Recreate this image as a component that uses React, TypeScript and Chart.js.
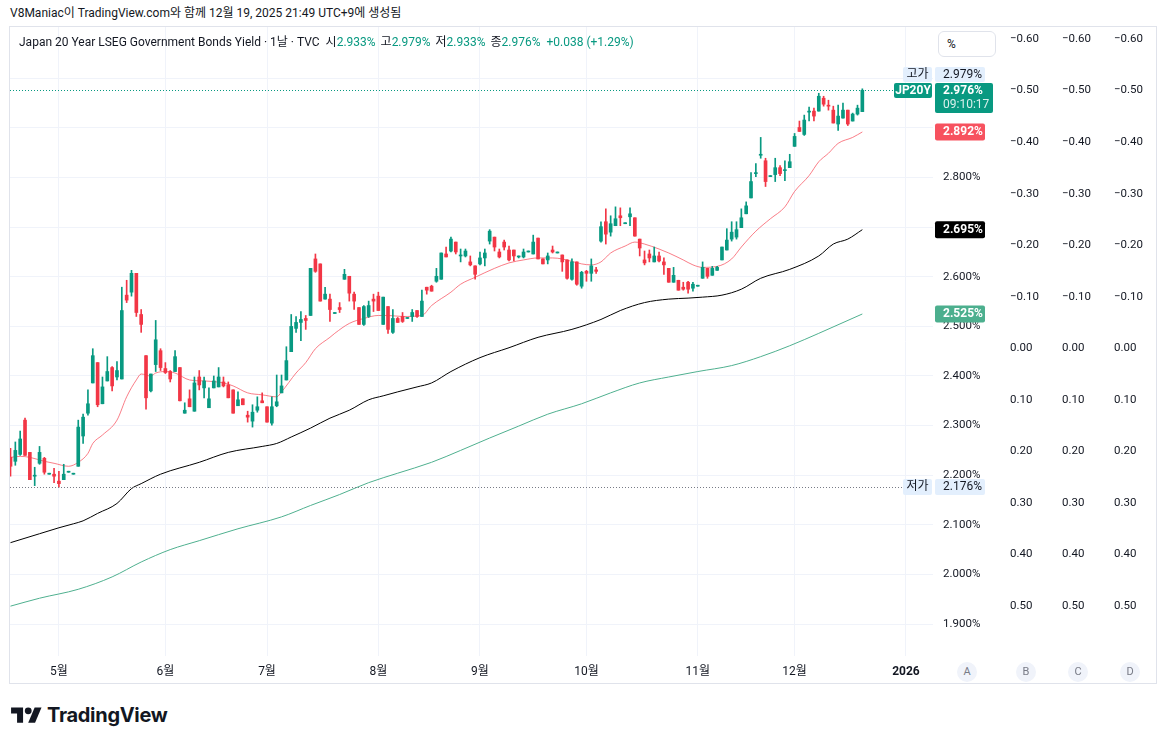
import React, { useEffect, useRef } from 'react';
import { Chart, registerables } from 'chart.js';

Chart.register(...registerables);

// Daily bars (weekdays) from 2025-04-17 to 2025-12-19, yield in %
const open = [
  2.236, 2.228, 2.242, 2.311, 2.246, 2.198, 2.224, 2.234, 2.202, 2.202,
  2.188, 2.191, 2.206, 2.202, 2.218, 2.279, 2.325, 2.386, 2.427, 2.344,
  2.390, 2.417, 2.398, 2.394, 2.563, 2.569, 2.607, 2.524, 2.441, 2.370,
  2.423, 2.451, 2.415, 2.409, 2.409, 2.417, 2.325, 2.354, 2.329, 2.398,
  2.376, 2.336, 2.376, 2.378, 2.388, 2.382, 2.372, 2.340, 2.354, 2.321,
  2.309, 2.331, 2.350, 2.338, 2.305, 2.340, 2.366, 2.392, 2.449, 2.496,
  2.508, 2.516, 2.522, 2.636, 2.626, 2.555, 2.555, 2.526, 2.538, 2.595,
  2.601, 2.565, 2.538, 2.504, 2.520, 2.555, 2.561, 2.504, 2.540, 2.488,
  2.516, 2.520, 2.516, 2.520, 2.532, 2.520, 2.579, 2.581, 2.591, 2.595,
  2.646, 2.652, 2.670, 2.642, 2.642, 2.630, 2.622, 2.626, 2.638, 2.672,
  2.680, 2.650, 2.670, 2.654, 2.654, 2.640, 2.640, 2.650, 2.646, 2.678,
  2.636, 2.634, 2.654, 2.648, 2.644, 2.634, 2.595, 2.630, 2.581, 2.611,
  2.607, 2.614, 2.672, 2.711, 2.690, 2.703, 2.723, 2.707, 2.721, 2.719,
  2.676, 2.634, 2.646, 2.630, 2.642, 2.630, 2.617, 2.589, 2.593, 2.579,
  2.589, 2.577, 2.581, 2.597, 2.617, 2.603, 2.613, 2.634, 2.654, 2.676,
  2.680, 2.699, 2.727, 2.759, 2.808, 2.845, 2.834, 2.802, 2.806, 2.820,
  2.814, 2.820, 2.863, 2.901, 2.887, 2.932, 2.934, 2.934, 2.960, 2.946,
  2.936, 2.908, 2.920, 2.936, 2.914, 2.928, 2.933,
];
const high = [
  2.254, 2.267, 2.289, 2.315, 2.246, 2.216, 2.258, 2.236, 2.204, 2.214,
  2.208, 2.222, 2.206, 2.202, 2.311, 2.323, 2.372, 2.455, 2.427, 2.398,
  2.439, 2.419, 2.429, 2.579, 2.593, 2.613, 2.607, 2.534, 2.441, 2.404,
  2.512, 2.455, 2.427, 2.411, 2.451, 2.417, 2.346, 2.372, 2.398, 2.411,
  2.398, 2.376, 2.400, 2.417, 2.398, 2.388, 2.372, 2.368, 2.354, 2.329,
  2.342, 2.358, 2.366, 2.338, 2.358, 2.402, 2.402, 2.459, 2.524, 2.520,
  2.530, 2.522, 2.617, 2.646, 2.626, 2.579, 2.565, 2.526, 2.548, 2.615,
  2.601, 2.569, 2.538, 2.542, 2.551, 2.565, 2.569, 2.559, 2.540, 2.534,
  2.518, 2.528, 2.516, 2.534, 2.532, 2.573, 2.579, 2.583, 2.617, 2.648,
  2.660, 2.680, 2.670, 2.656, 2.656, 2.642, 2.622, 2.650, 2.656, 2.695,
  2.680, 2.656, 2.674, 2.662, 2.654, 2.642, 2.656, 2.650, 2.684, 2.678,
  2.636, 2.648, 2.662, 2.648, 2.644, 2.634, 2.636, 2.630, 2.611, 2.613,
  2.636, 2.619, 2.711, 2.737, 2.723, 2.741, 2.739, 2.707, 2.739, 2.719,
  2.676, 2.652, 2.654, 2.660, 2.650, 2.638, 2.617, 2.619, 2.593, 2.589,
  2.591, 2.589, 2.581, 2.630, 2.617, 2.621, 2.621, 2.660, 2.697, 2.711,
  2.711, 2.737, 2.751, 2.810, 2.828, 2.881, 2.839, 2.802, 2.839, 2.824,
  2.834, 2.847, 2.889, 2.914, 2.926, 2.942, 2.940, 2.970, 2.964, 2.956,
  2.944, 2.946, 2.950, 2.936, 2.930, 2.946, 2.979,
];
const low = [
  2.198, 2.220, 2.240, 2.240, 2.191, 2.179, 2.222, 2.202, 2.202, 2.185,
  2.176, 2.191, 2.206, 2.202, 2.218, 2.264, 2.321, 2.386, 2.338, 2.344,
  2.390, 2.370, 2.392, 2.394, 2.548, 2.561, 2.520, 2.488, 2.333, 2.368,
  2.409, 2.411, 2.405, 2.388, 2.409, 2.350, 2.325, 2.338, 2.329, 2.372,
  2.356, 2.336, 2.376, 2.378, 2.378, 2.356, 2.325, 2.340, 2.342, 2.307,
  2.297, 2.327, 2.346, 2.307, 2.301, 2.338, 2.366, 2.392, 2.449, 2.488,
  2.471, 2.494, 2.522, 2.609, 2.551, 2.555, 2.510, 2.526, 2.528, 2.595,
  2.551, 2.534, 2.504, 2.502, 2.518, 2.530, 2.532, 2.504, 2.486, 2.486,
  2.508, 2.508, 2.516, 2.510, 2.518, 2.520, 2.565, 2.571, 2.589, 2.595,
  2.640, 2.650, 2.646, 2.630, 2.640, 2.622, 2.595, 2.624, 2.622, 2.666,
  2.652, 2.638, 2.654, 2.632, 2.632, 2.638, 2.638, 2.650, 2.646, 2.636,
  2.626, 2.626, 2.648, 2.648, 2.611, 2.595, 2.593, 2.583, 2.577, 2.591,
  2.591, 2.607, 2.670, 2.666, 2.682, 2.703, 2.703, 2.707, 2.703, 2.682,
  2.642, 2.624, 2.630, 2.630, 2.630, 2.605, 2.589, 2.589, 2.573, 2.573,
  2.567, 2.571, 2.581, 2.597, 2.597, 2.603, 2.613, 2.634, 2.654, 2.672,
  2.676, 2.699, 2.727, 2.759, 2.802, 2.839, 2.782, 2.802, 2.792, 2.804,
  2.794, 2.820, 2.863, 2.893, 2.885, 2.914, 2.914, 2.934, 2.944, 2.936,
  2.910, 2.895, 2.920, 2.905, 2.914, 2.926, 2.933,
];
const close = [
  2.218, 2.250, 2.273, 2.240, 2.191, 2.200, 2.246, 2.206, 2.204, 2.198,
  2.183, 2.202, 2.206, 2.202, 2.297, 2.317, 2.344, 2.441, 2.342, 2.378,
  2.409, 2.380, 2.411, 2.532, 2.553, 2.607, 2.528, 2.504, 2.356, 2.404,
  2.473, 2.417, 2.407, 2.394, 2.439, 2.350, 2.331, 2.338, 2.386, 2.382,
  2.390, 2.354, 2.390, 2.398, 2.380, 2.356, 2.325, 2.352, 2.342, 2.317,
  2.327, 2.338, 2.346, 2.307, 2.338, 2.348, 2.380, 2.431, 2.500, 2.508,
  2.514, 2.512, 2.617, 2.611, 2.551, 2.565, 2.534, 2.526, 2.534, 2.605,
  2.567, 2.551, 2.504, 2.540, 2.542, 2.551, 2.532, 2.559, 2.494, 2.516,
  2.508, 2.510, 2.516, 2.528, 2.520, 2.551, 2.573, 2.571, 2.601, 2.648,
  2.640, 2.676, 2.650, 2.644, 2.652, 2.624, 2.605, 2.638, 2.648, 2.692,
  2.660, 2.640, 2.660, 2.634, 2.642, 2.640, 2.650, 2.650, 2.670, 2.636,
  2.626, 2.642, 2.650, 2.648, 2.630, 2.597, 2.630, 2.585, 2.609, 2.607,
  2.622, 2.611, 2.701, 2.686, 2.707, 2.717, 2.719, 2.707, 2.727, 2.682,
  2.658, 2.628, 2.638, 2.642, 2.632, 2.624, 2.589, 2.603, 2.573, 2.575,
  2.575, 2.585, 2.581, 2.619, 2.601, 2.617, 2.619, 2.660, 2.674, 2.690,
  2.695, 2.719, 2.743, 2.792, 2.810, 2.847, 2.792, 2.802, 2.820, 2.808,
  2.816, 2.832, 2.883, 2.893, 2.916, 2.934, 2.924, 2.964, 2.948, 2.944,
  2.910, 2.924, 2.936, 2.908, 2.928, 2.940, 2.976,
];

// Moving averages as [bar index, value]
const maShort: [number, number][] = [
  [0, 2.236], [2, 2.238], [4, 2.236], [7, 2.228], [9, 2.224], [12, 2.218],
  [14, 2.226], [16, 2.244], [17, 2.264], [19, 2.281], [22, 2.311], [24, 2.358],
  [26, 2.392], [27, 2.404], [29, 2.400], [30, 2.406], [32, 2.409], [34, 2.406],
  [37, 2.392], [40, 2.390], [44, 2.386], [46, 2.380], [49, 2.366], [52, 2.362],
  [55, 2.358], [56, 2.368], [59, 2.406], [61, 2.427], [63, 2.455], [66, 2.478],
  [67, 2.486], [70, 2.506], [73, 2.516], [76, 2.522], [78, 2.522], [81, 2.520],
  [85, 2.522], [87, 2.542], [91, 2.569], [93, 2.585], [96, 2.599], [100, 2.617],
  [103, 2.628], [106, 2.634], [109, 2.638], [112, 2.638], [114, 2.636], [118, 2.626],
  [120, 2.624], [122, 2.630], [124, 2.648], [127, 2.662], [129, 2.670], [131, 2.666],
  [134, 2.656], [136, 2.648], [139, 2.634], [141, 2.624], [143, 2.619], [146, 2.621],
  [149, 2.636], [151, 2.660], [154, 2.692], [157, 2.717], [160, 2.741], [162, 2.772],
  [165, 2.804], [167, 2.832], [169, 2.849], [171, 2.869], [174, 2.881], [176, 2.892],
];
const maMid: [number, number][] = [
  [0, 2.064], [6, 2.082], [10, 2.094], [13, 2.102], [15, 2.108], [18, 2.123],
  [22, 2.143], [25, 2.173], [27, 2.183], [31, 2.202], [39, 2.226], [45, 2.246],
  [52, 2.258], [55, 2.264], [58, 2.277], [62, 2.295], [66, 2.315], [70, 2.331],
  [74, 2.352], [77, 2.360], [80, 2.368], [84, 2.378], [87, 2.386], [91, 2.409],
  [97, 2.437], [103, 2.457], [109, 2.478], [116, 2.494], [122, 2.514], [126, 2.532],
  [131, 2.548], [136, 2.555], [140, 2.557], [143, 2.559], [147, 2.563], [151, 2.575],
  [155, 2.597], [161, 2.615], [167, 2.642], [170, 2.666], [173, 2.676], [176, 2.695],
];
const maLong: [number, number][] = [
  [0, 1.936], [6, 1.952], [14, 1.970], [21, 1.995], [27, 2.025], [33, 2.050],
  [39, 2.068], [47, 2.092], [56, 2.116], [62, 2.139], [68, 2.161], [74, 2.185],
  [80, 2.204], [87, 2.226], [93, 2.250], [99, 2.275], [105, 2.299], [111, 2.323],
  [118, 2.344], [124, 2.366], [130, 2.386], [136, 2.398], [142, 2.409], [149, 2.421],
  [155, 2.439], [161, 2.461], [167, 2.486], [176, 2.525],
];

// Time axis: first weekday of each month
const monthTickIdx = [10, 32, 53, 76, 97, 119, 142, 162, 185];
const monthTickLabels = ['5월', '6월', '7월', '8월', '9월', '10월', '11월', '12월', '2026'];

const priceTicks = [1.9, 2.0, 2.1, 2.2, 2.3, 2.4, 2.5, 2.6, 2.7, 2.8, 2.9, 3.0];
const sideTicks = [-0.6, -0.5, -0.4, -0.3, -0.2, -0.1, 0, 0.1, 0.2, 0.3, 0.4, 0.5];

const sessionHigh = 2.979;
const sessionLow = 2.176;
const lastClose = close[close.length - 1];
const maShortLast = maShort[maShort.length - 1][1];
const maMidLast = maMid[maMid.length - 1][1];
const maLongLast = maLong[maLong.length - 1][1];

const FONT = 'Roboto, "Noto Sans CJK KR", sans-serif';
const TEXT = '#131722';
const UP = '#089981';
const DOWN = '#F23645';
const GRID = '#f0f3fa';
const MA_SHORT = 'rgba(247, 82, 95, 0.75)';
const MA_MID = '#000000';
const MA_LONG = '#4fb08f';
const TAG_RED = '#f7525f';
const TAG_LONG = '#4caf8e';
const TAG_LIGHT = '#e3effd';

const X_MIN = -0.103;
const X_MAX = 190.6;
const Y_MIN = 1.8355;
const Y_MAX = 3.1036;
const S_MIN = -0.6233;
const S_MAX = 0.597;

const fmtSide = (v: number) => {
  if (Math.abs(v) < 1e-9) return '0.00';
  return v < 0 ? '\u2212' + Math.abs(v).toFixed(2) : v.toFixed(2);
};

// Price labels sitting under a tag are left out, as the tags cover them
const priceLabel = (v: number) => {
  const underTag =
    v > lastClose - 0.04 ||
    Math.abs(v - maShortLast) < 0.02 ||
    Math.abs(v - maMidLast) < 0.02;
  return underTag ? '' : v.toFixed(3) + '%';
};

const sideAxis = (weight: number) => ({
  type: 'linear',
  axis: 'y',
  position: 'right',
  weight,
  reverse: true,
  min: S_MIN,
  max: S_MAX,
  grid: { display: false, drawTicks: false },
  border: { display: false },
  afterBuildTicks: (s: any) => {
    s.ticks = sideTicks.map((value) => ({ value }));
  },
  ticks: {
    padding: 10,
    color: TEXT,
    font: { family: FONT, size: 11.5 },
    callback: (v: number) => fmtSide(v),
  },
  afterFit: (s: any) => {
    s.width = 52;
    s.paddingTop = 0;
    s.paddingBottom = 0;
  },
});

function roundBox(ctx: CanvasRenderingContext2D, x: number, y: number, w: number, h: number, color: string) {
  ctx.fillStyle = color;
  ctx.beginPath();
  (ctx as any).roundRect(x, y, w, h, 2);
  ctx.fill();
}

const tagPlugin = {
  id: 'priceTags',
  afterDatasetsDraw(chart: any) {
    const { ctx, chartArea: a, scales } = chart;
    const ys = scales.y;
    const px = (v: number) => ys.getPixelForValue(v);
    const ax = ys.left + 2;
    const tx = ys.left + 10;
    ctx.save();

    // dotted lines for the last price and the period low
    const yc = Math.round(px(lastClose)) + 0.5;
    const yl = Math.round(px(sessionLow)) + 0.5;
    ctx.lineWidth = 1;
    ctx.setLineDash([1, 2]);
    ctx.strokeStyle = UP;
    ctx.beginPath();
    ctx.moveTo(a.left, yc);
    ctx.lineTo(ys.left - 40, yc);
    ctx.stroke();
    ctx.strokeStyle = '#787b86';
    ctx.beginPath();
    ctx.moveTo(a.left, yl);
    ctx.lineTo(ys.left - 31, yl);
    ctx.stroke();
    ctx.setLineDash([]);

    ctx.textBaseline = 'middle';
    ctx.font = `12px ${FONT}`;

    // last price with countdown
    const cTop = yc - 7.5;
    roundBox(ctx, ax, cTop, 58, 30, UP);
    roundBox(ctx, ys.left - 39, cTop, 38, 15, UP);
    ctx.fillStyle = '#ffffff';
    ctx.textAlign = 'center';
    ctx.font = `bold 12px ${FONT}`;
    ctx.fillText('JP20Y', ys.left - 20, cTop + 7.5);
    ctx.textAlign = 'left';
    ctx.fillText(lastClose.toFixed(3) + '%', tx, cTop + 7.5);
    ctx.font = `12px ${FONT}`;
    ctx.fillStyle = 'rgba(255,255,255,0.85)';
    ctx.fillText('09:10:17', tx, cTop + 22);

    // period high, stacked above the last price tag
    const hTop = cTop - 16;
    roundBox(ctx, ys.left - 30, hTop, 29, 15, TAG_LIGHT);
    roundBox(ctx, ax, hTop, 50, 15, TAG_LIGHT);
    ctx.fillStyle = TEXT;
    ctx.textAlign = 'center';
    ctx.fillText('고가', ys.left - 15.5, hTop + 7.5);
    ctx.textAlign = 'left';
    ctx.fillText(sessionHigh.toFixed(3) + '%', tx, hTop + 7.5);

    // period low
    const lTop = yl - 8.5;
    roundBox(ctx, ys.left - 30, lTop, 29, 16, TAG_LIGHT);
    roundBox(ctx, ax, lTop, 50, 16, TAG_LIGHT);
    ctx.fillStyle = TEXT;
    ctx.textAlign = 'center';
    ctx.fillText('저가', ys.left - 15.5, lTop + 8);
    ctx.textAlign = 'left';
    ctx.fillText(sessionLow.toFixed(3) + '%', tx, lTop + 8);

    // moving average values
    const maTags: [number, string][] = [
      [maShortLast, TAG_RED],
      [maMidLast, '#000000'],
      [maLongLast, TAG_LONG],
    ];
    for (const [v, color] of maTags) {
      const y = px(v);
      roundBox(ctx, ax, y - 8.5, 50, 17, color);
      ctx.fillStyle = '#ffffff';
      ctx.font = `bold 12px ${FONT}`;
      ctx.fillText(v.toFixed(3) + '%', tx, y);
    }
    ctx.restore();
  },
};

export default function App() {
  const ref = useRef<HTMLCanvasElement>(null);

  useEffect(() => {
    const colors = close.map((c, i) => (c >= open[i] ? UP : DOWN));
    const line = (data: [number, number][], color: string) => ({
      type: 'line',
      data: data.map(([x, y]) => ({ x, y })),
      borderColor: color,
      borderWidth: 1,
      pointRadius: 0,
      cubicInterpolationMode: 'monotone',
      order: 3,
    });

    const chart = new Chart(ref.current as HTMLCanvasElement, {
      type: 'bar',
      data: {
        datasets: [
          {
            type: 'bar',
            label: 'body',
            data: open.map((o, i) => ({ x: i, y: [o, close[i]] })),
            backgroundColor: colors,
            borderWidth: 0,
            barThickness: 3,
            minBarLength: 1,
            grouped: false,
            order: 1,
          },
          {
            type: 'bar',
            label: 'wick',
            data: high.map((h, i) => ({ x: i, y: [low[i], h] })),
            backgroundColor: colors,
            borderWidth: 0,
            barThickness: 1,
            minBarLength: 1,
            grouped: false,
            order: 2,
          },
          line(maShort, MA_SHORT),
          line(maMid, MA_MID),
          line(maLong, MA_LONG),
        ] as any,
      },
      options: {
        animation: false,
        responsive: false,
        devicePixelRatio: 1,
        events: [],
        layout: { padding: 0, autoPadding: false },
        plugins: { legend: { display: false }, tooltip: { enabled: false } },
        scales: {
          x: {
            type: 'linear',
            position: 'bottom',
            min: X_MIN,
            max: X_MAX,
            offset: false,
            grid: { color: GRID, drawTicks: false, offset: false },
            border: { display: false },
            afterBuildTicks: (s: any) => {
              s.ticks = monthTickIdx.map((value) => ({ value }));
            },
            ticks: {
              autoSkip: false,
              maxRotation: 0,
              padding: 9,
              color: TEXT,
              font: (c: any) => ({
                family: FONT,
                size: 12,
                weight: c.tick && c.tick.value === monthTickIdx[monthTickIdx.length - 1] ? 'bold' : 'normal',
              }),
              callback: (v: number) => monthTickLabels[monthTickIdx.indexOf(v)] ?? '',
            },
            afterFit: (s: any) => {
              s.height = 27;
              s.paddingLeft = 0;
              s.paddingRight = 0;
            },
          },
          y: {
            type: 'linear',
            position: 'right',
            weight: 0,
            min: Y_MIN,
            max: Y_MAX,
            grid: { color: GRID, drawTicks: false },
            border: { display: false },
            afterBuildTicks: (s: any) => {
              s.ticks = priceTicks.map((value) => ({ value }));
            },
            ticks: {
              padding: 10,
              color: TEXT,
              font: { family: FONT, size: 11.5 },
              callback: (v: number) => priceLabel(v),
            },
            afterFit: (s: any) => {
              s.width = 67;
              s.paddingTop = 0;
              s.paddingBottom = 0;
            },
          },
          b: sideAxis(1),
          c: sideAxis(2),
          d: sideAxis(3),
        } as any,
      },
      plugins: [tagPlugin],
    });
    return () => chart.destroy();
  }, []);

  const circles: [string, number][] = [['A', 967], ['B', 1026], ['C', 1078], ['D', 1130]];

  return (
    <div
      style={{
        position: 'fixed',
        left: 0,
        top: 0,
        width: 1166,
        height: 745,
        background: '#ffffff',
        fontFamily: FONT,
        color: TEXT,
        overflow: 'hidden',
      }}
    >
      <div style={{ position: 'absolute', left: 10, top: 5, fontSize: 12, lineHeight: '16px', whiteSpace: 'nowrap' }}>
        V8Maniac이 TradingView.com와 함께 12월 19, 2025 21:49 UTC+9에 생성됨
      </div>
      <div
        style={{
          position: 'absolute',
          left: 9,
          top: 26,
          width: 1148,
          height: 658,
          border: '1px solid #e0e3eb',
          boxSizing: 'border-box',
        }}
      />
      <canvas
        ref={ref}
        width={1146}
        height={656}
        style={{ position: 'absolute', left: 10, top: 27, width: 1146, height: 656 }}
      />
      <div style={{ position: 'absolute', left: 19, top: 34, fontSize: 12, lineHeight: '16px', whiteSpace: 'nowrap' }}>
        Japan 20 Year LSEG Government Bonds Yield · 1날 · TVC
        <span style={{ marginLeft: 6 }}>시</span>
        <span style={{ color: UP }}>2.933%</span>
        <span style={{ marginLeft: 5 }}>고</span>
        <span style={{ color: UP }}>2.979%</span>
        <span style={{ marginLeft: 5 }}>저</span>
        <span style={{ color: UP }}>2.933%</span>
        <span style={{ marginLeft: 5 }}>종</span>
        <span style={{ color: UP }}>2.976%</span>
        <span style={{ color: UP, marginLeft: 6 }}>+0.038 (+1.29%)</span>
      </div>
      <div
        style={{
          position: 'absolute',
          left: 938,
          top: 31,
          width: 58,
          height: 26,
          border: '1px solid #e0e3eb',
          borderRadius: 6,
          boxSizing: 'border-box',
          background: '#ffffff',
          fontSize: 12,
          lineHeight: '24px',
          paddingLeft: 8,
        }}
      >
        %
      </div>
      {circles.map(([t, x]) => (
        <div
          key={t}
          style={{
            position: 'absolute',
            left: x - 10,
            top: 662,
            width: 20,
            height: 20,
            borderRadius: 10,
            background: '#f0f3fa',
            color: '#787b86',
            fontSize: 11,
            lineHeight: '20px',
            textAlign: 'center',
          }}
        >
          {t}
        </div>
      ))}
      <svg
        style={{ position: 'absolute', left: 11, top: 704 }}
        width={31}
        height={24}
        viewBox="0 0 36 28"
      >
        <path d="M14 22H7V11H0V4h14v18z" fill={TEXT} />
        <path d="M28 22h-8l7.5-18h8L28 22z" fill={TEXT} />
        <circle cx="20" cy="8" r="4" fill={TEXT} />
      </svg>
      <div
        style={{
          position: 'absolute',
          left: 47,
          top: 703,
          fontSize: 20,
          fontWeight: 700,
          lineHeight: '24px',
          letterSpacing: -0.3,
          fontFamily: 'Inter, Roboto, sans-serif',
        }}
      >
        TradingView
      </div>
    </div>
  );
}
